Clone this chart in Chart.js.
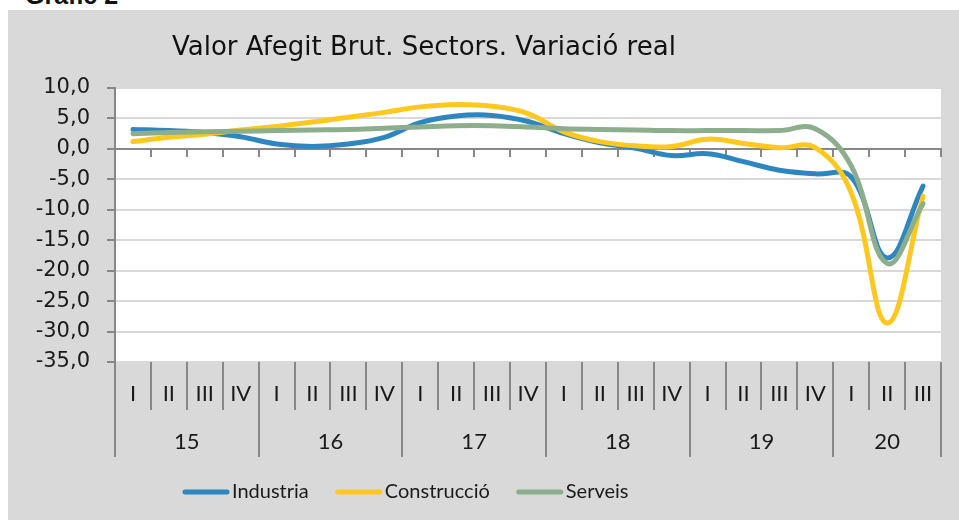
<!DOCTYPE html>
<html>
<head>
<meta charset="utf-8">
<script src="https://cdn.jsdelivr.net/npm/chart.js@4"></script>
<style>
  body { margin: 0; background: #fff; width: 959px; height: 520px; overflow: hidden; position: relative; }
  #head { position: absolute; left: 25px; top: -17px; font: bold 25px "Liberation Sans", Arial, sans-serif; color: #111; line-height: 1; }
  #panel { position: absolute; left: 8px; top: 10px; width: 951px; height: 510px; background: #d9d9d9; }
</style>
</head>
<body>
<div id="head">Gràfic 2</div>
<div id="panel"><canvas id="vabChart" width="951" height="510"></canvas></div>
<script>
const chartTitle = "Valor Afegit Brut. Sectors. Variació real";
const years = ["15", "16", "17", "18", "19", "20"];
const quartersPerYear = [4, 4, 4, 4, 4, 3];
const quarterNames = ["I", "II", "III", "IV"];

const industria = [3.2, 3.0, 2.7, 2.0, 0.8, 0.4, 0.8, 1.9, 4.3, 5.4, 5.5, 4.5, 2.5, 1.0, 0.1, -1.1, -0.8, -2.1, -3.5, -4.1, -4.6, -17.9, -6.1];
const construccio = [1.2, 1.9, 2.4, 3.1, 3.7, 4.4, 5.2, 6.0, 6.9, 7.3, 7.0, 5.8, 2.8, 1.2, 0.5, 0.4, 1.6, 0.9, 0.2, 0.2, -7.2, -28.6, -7.8];
const serveis = [2.5, 2.7, 2.8, 2.9, 3.0, 3.1, 3.2, 3.4, 3.6, 3.8, 3.8, 3.6, 3.3, 3.2, 3.1, 3.0, 3.0, 3.0, 3.0, 3.3, -2.8, -18.8, -9.0];

const axisGrey = "#878787";
const textColor = "#1a1a1a";

// quarter labels and year boundaries / centres (in quarter units)
const labels = [];
years.forEach((y, i) => {
    for (let q = 0; q < quartersPerYear[i]; q++) labels.push(quarterNames[q]);
});
const bounds = [0];
quartersPerYear.forEach(n => bounds.push(bounds[bounds.length - 1] + n));
const centers = years.map((y, i) => (bounds[i] + bounds[i + 1]) / 2);

const plotBackground = {
    id: "plotBackground",
    beforeDraw(chart) {
        const {ctx, chartArea} = chart;
        ctx.save();
        ctx.fillStyle = "#ffffff";
        ctx.fillRect(chartArea.left, chartArea.top, chartArea.right - chartArea.left, chartArea.bottom - chartArea.top);
        ctx.restore();
    },
};

const titleAndLegend = {
    id: "titleAndLegend",
    afterDraw(chart) {
        const ctx = chart.ctx;
        ctx.save();
        ctx.fillStyle = "#111";
        ctx.font = '26px "DejaVu Sans"';
        ctx.textBaseline = "alphabetic";
        ctx.fillText(chartTitle, 164, 45);

        // legend
        ctx.font = '20px "Lato"';
        ctx.textBaseline = "middle";
        let x = 175;
        const y = 482;
        chart.data.datasets.forEach(ds => {
            ctx.strokeStyle = ds.borderColor;
            ctx.lineWidth = 5;
            ctx.lineCap = "round";
            ctx.beginPath();
            ctx.moveTo(x + 2, y);
            ctx.lineTo(x + 44, y);
            ctx.stroke();
            ctx.fillStyle = textColor;
            ctx.fillText(ds.label, x + 49, y);
            x += 49 + ctx.measureText(ds.label).width + 27;
        });
        ctx.restore();
    },
};

const lineStyle = {
    borderWidth: 5,
    pointRadius: 0,
    tension: 0.4,
    fill: false,
    borderCapStyle: "round",
    borderJoinStyle: "round",
};

new Chart(document.getElementById("vabChart").getContext("2d"), {
    type: "line",
    data: {
        labels,
        datasets: [
            {label: "Industria", data: industria, borderColor: "#2e86c1", order: 3, ...lineStyle},
            {label: "Construcció", data: construccio, borderColor: "#ffc820", order: 2, ...lineStyle},
            {label: "Serveis", data: serveis, borderColor: "#8cae8c", order: 1, ...lineStyle},
        ],
    },
    options: {
        responsive: false,
        animation: false,
        layout: {padding: {top: 78, right: 18, bottom: 63, left: 0}},
        plugins: {
            legend: {display: false},
            title: {display: false},
            tooltip: {enabled: false},
        },
        scales: {
            y: {
                min: -35,
                max: 10,
                afterFit: s => { s.width = 107; },
                grid: {
                    color: c => (c.tick && c.tick.value === 0 ? "rgba(0,0,0,0)" : "#d9d9d9"),
                    lineWidth: 2,
                    tickLength: 8,
                    tickColor: axisGrey,
                    tickWidth: 2,
                },
                border: {color: axisGrey, width: 2},
                ticks: {
                    stepSize: 5,
                    padding: 17,
                    color: textColor,
                    font: {family: "DejaVu Sans", size: 21},
                    callback: v => v.toFixed(1).replace(".", ","),
                },
            },
            x: {
                type: "category",
                offset: true,
                weight: 0,
                afterFit: s => { s.height = 48; },
                grid: {drawOnChartArea: false, offset: true, tickLength: 48, color: axisGrey, lineWidth: 2},
                border: {display: false},
                ticks: {
                    autoSkip: false,
                    maxRotation: 0,
                    padding: -29,
                    color: textColor,
                    font: {family: "Lato", size: 22},
                },
            },
            x2: {
                type: "linear",
                position: "bottom",
                weight: 1,
                min: 0,
                max: bounds[bounds.length - 1],
                afterBuildTicks: s => {
                    s.ticks = bounds.concat(centers).sort((a, b) => a - b).map(v => ({value: v}));
                },
                afterFit: s => { s.height = 47; },
                grid: {
                    drawOnChartArea: false,
                    tickLength: 47,
                    lineWidth: 2,
                    color: c => (c.tick && bounds.includes(c.tick.value) ? axisGrey : "rgba(0,0,0,0)"),
                },
                border: {display: false},
                ticks: {
                    autoSkip: false,
                    maxRotation: 0,
                    padding: -28,
                    color: textColor,
                    font: {family: "Lato", size: 22},
                    callback: v => {
                        const i = centers.indexOf(v);
                        return i >= 0 ? years[i] : "";
                    },
                },
            },
            x0: {
                type: "category",
                position: {y: 0},
                offset: true,
                grid: {drawOnChartArea: false, offset: true, tickLength: 7, color: axisGrey, lineWidth: 2},
                border: {color: axisGrey, width: 2},
                ticks: {display: false},
            },
        },
    },
    plugins: [plotBackground, titleAndLegend],
});
</script>
</body>
</html>
